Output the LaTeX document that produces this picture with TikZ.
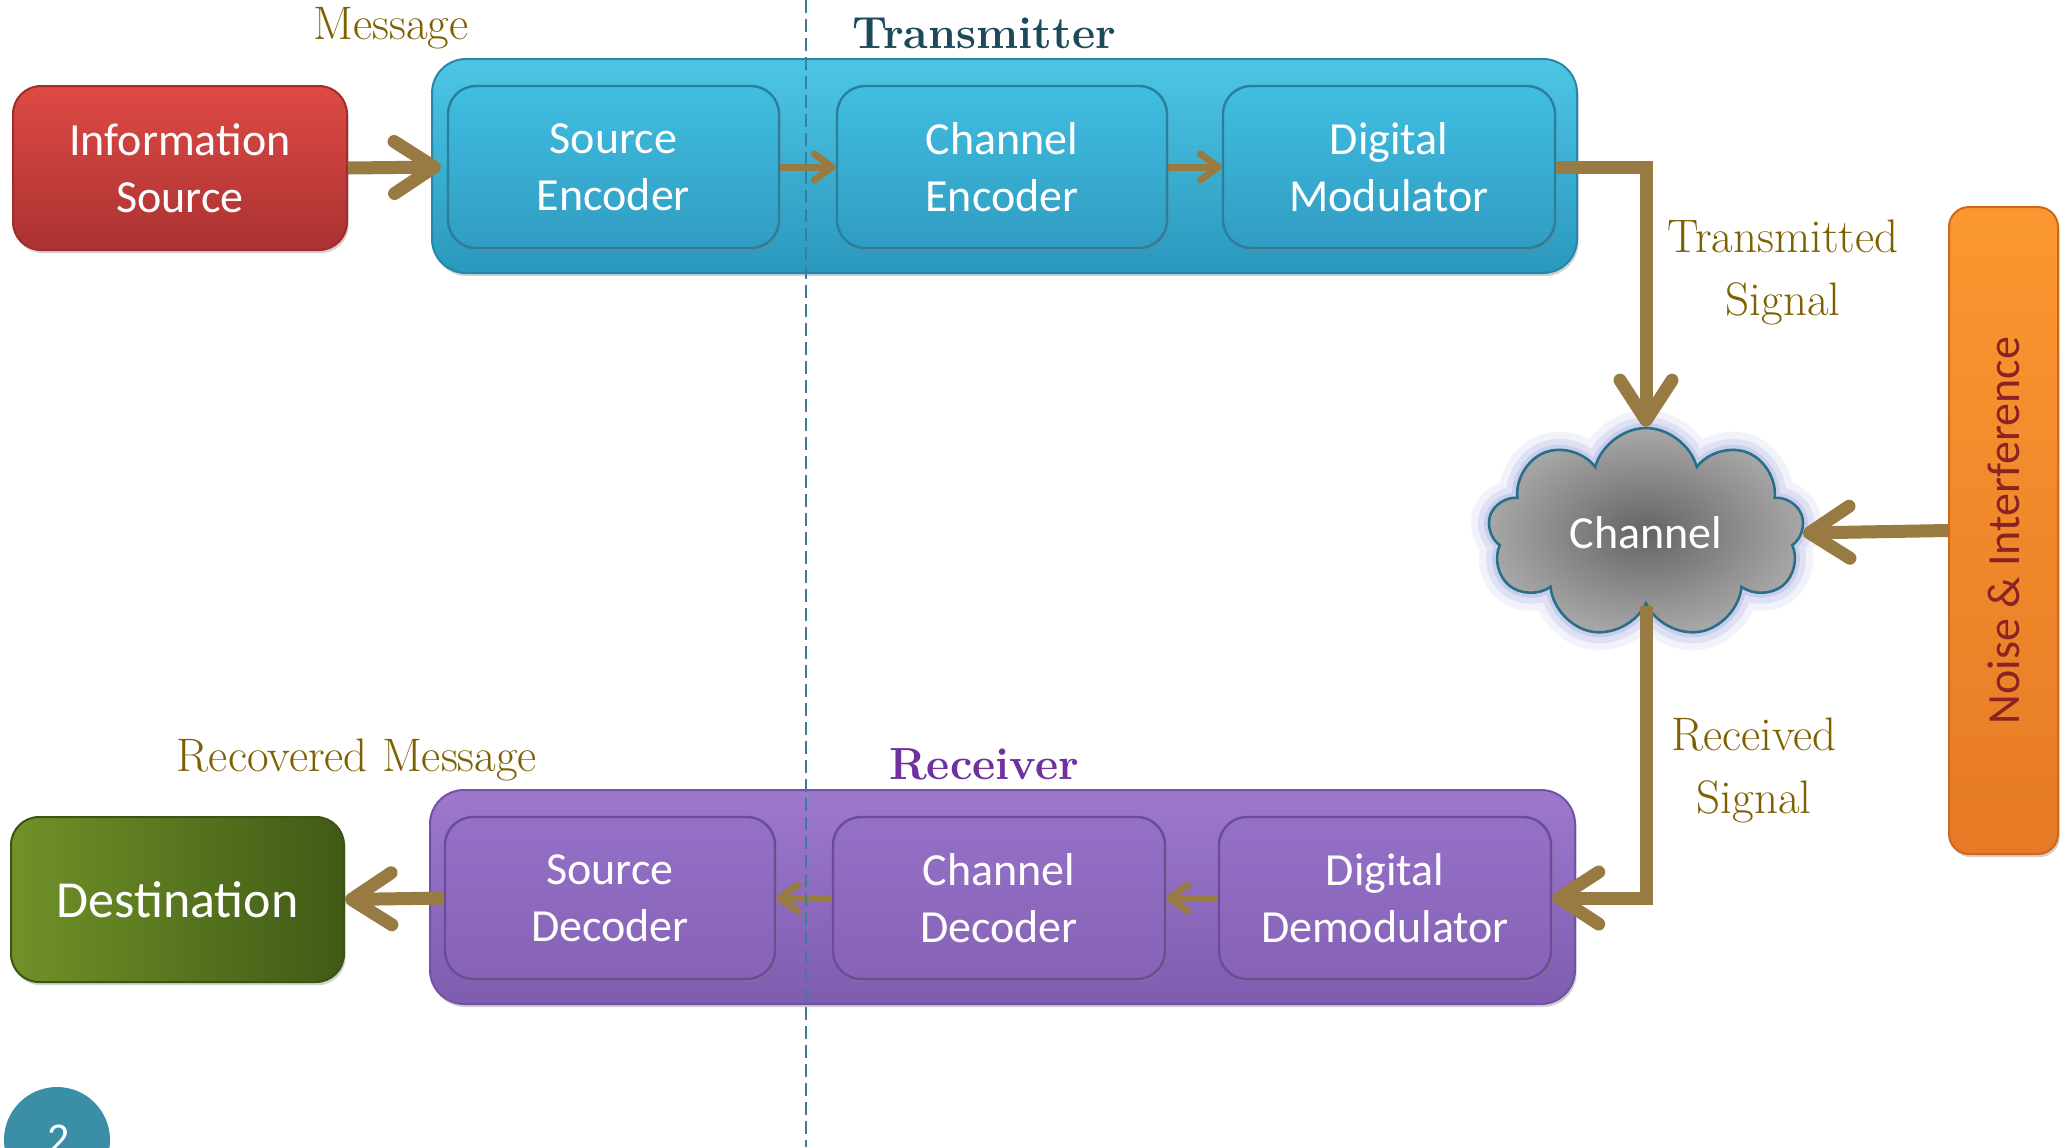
\documentclass[tikz,border=0pt]{standalone}
\usepackage{fontspec}
\newfontfamily\calfont{Carlito}
\usetikzlibrary{arrows.meta,shapes.symbols,shadows}

\definecolor{arrowc}{HTML}{977B42}
\definecolor{labelc}{HTML}{7F6000}
\definecolor{txtitle}{HTML}{1D4A5A}
\definecolor{rxtitle}{HTML}{7030A0}
\definecolor{dashc}{HTML}{3A7F9A}
\definecolor{pagec}{HTML}{3A8FA6}
\definecolor{noisetext}{HTML}{8B2323}
\definecolor{glowc}{HTML}{8C96DC}
\definecolor{cloudline}{HTML}{2A6F88}

\tikzset{
  boxtext/.style={font=\calfont\fontsize{23pt}{28.3pt}\selectfont, text=white, align=center},
  label/.style={font=\fontsize{23.5pt}{31.5pt}\selectfont, text=labelc, align=center},
  title/.style={font=\bfseries\fontsize{22.5pt}{26pt}\selectfont},
  shadowed/.style={drop shadow={shadow xshift=0.8pt, shadow yshift=-1.6pt, opacity=0.35}},
  txouter/.style={rounded corners=17pt, top color=txtop, bottom color=txbot, draw=txline, line width=1pt, shadowed},
  txinner/.style={boxtext, rounded corners=14pt, top color=txitop, bottom color=txibot, draw=txiline, line width=1.2pt, shadowed},
  rxouter/.style={rounded corners=17pt, top color=rxtop, bottom color=rxbot, draw=rxline, line width=1pt, shadowed},
  rxinner/.style={boxtext, rounded corners=14pt, top color=rxitop, bottom color=rxibot, draw=rxiline, line width=1.2pt, shadowed},
  bigarrow/.style={draw=arrowc, line width=6.5pt, line join=miter,
    -{Straight Barb[length=20pt, width=26pt, line width=6.5pt, round]}},
  smallarrow/.style={draw=arrowc, line width=3.5pt,
    -{Straight Barb[length=9pt, width=13pt, line width=3.5pt, round]}},
}
\definecolor{txtop}{HTML}{4DC6E4}
\definecolor{txbot}{HTML}{2A98BD}
\definecolor{txline}{HTML}{2687A8}
\definecolor{txitop}{HTML}{40BEE0}
\definecolor{txibot}{HTML}{319CC2}
\definecolor{txiline}{HTML}{2A7E9E}
\definecolor{rxtop}{HTML}{9C79CC}
\definecolor{rxbot}{HTML}{7E5CB0}
\definecolor{rxline}{HTML}{7352A6}
\definecolor{rxitop}{HTML}{9470C6}
\definecolor{rxibot}{HTML}{8763B8}
\definecolor{rxiline}{HTML}{6A4C98}

\begin{document}
\begin{tikzpicture}[x=0.5pt, y=-0.5pt]
\useasboundingbox (0,0) rectangle (2066,1147);
\fill[white] (0,0) rectangle (2066,1147);

% source side
\node[boxtext, rounded corners=14pt, top color={rgb,255:red,222;green,74;blue,68},
      bottom color={rgb,255:red,170;green,50;blue,50}, draw={rgb,255:red,160;green,44;blue,44},
      line width=1pt, shadowed, minimum width=167pt, minimum height=82pt] (info) at (180,168)
      {Information\\Source};

% transmitter chain
\node[txouter, minimum width=572.5pt, minimum height=107pt] (tx) at (1004.5,166) {};
\node[txinner, minimum width=165.5pt, minimum height=81pt] (senc) at (613.5,167) {Source\\Encoder};
\node[txinner, minimum width=165pt, minimum height=81pt] (cenc) at (1002,167) {Channel\\Encoder};
\node[txinner, minimum width=166pt, minimum height=81pt] (dmod) at (1389,167) {Digital\\Modulator};

% receiver chain
\node[rxouter, minimum width=572.5pt, minimum height=107pt] (rx) at (1002.5,897) {};
\node[rxinner, minimum width=165pt, minimum height=81pt] (sdec) at (610,898) {Source\\Decoder};
\node[rxinner, minimum width=166pt, minimum height=81pt] (cdec) at (999,898) {Channel\\Decoder};
\node[rxinner, minimum width=166pt, minimum height=81pt] (ddem) at (1385,898) {Digital\\Demodulator};

% sink
\node[font=\calfont\fontsize{26pt}{30pt}\selectfont, text=white, rounded corners=14pt,
      left color={rgb,255:red,112;green,146;blue,40}, right color={rgb,255:red,64;green,90;blue,22},
      draw={rgb,255:red,60;green,84;blue,20}, line width=1pt, shadowed,
      minimum width=166.5pt, minimum height=82.5pt] (dest) at (177.5,899.5) {Destination};

% noise source
\node[rounded corners=10pt, top color={rgb,255:red,251;green,151;blue,48},
      bottom color={rgb,255:red,230;green,122;blue,38}, draw={rgb,255:red,205;green,105;blue,30},
      line width=1pt, shadowed, minimum width=54.5pt, minimum height=323.5pt] (noise) at (2003.5,530.5) {};
\node[font=\calfont\fontsize{23pt}{28pt}\selectfont, text=noisetext, rotate=90] (noiselbl)
      at (noise.center) {Noise \& Interference};

% channel cloud with soft glow
\node[cloud, cloud puffs=9, cloud ignores aspect, minimum width=158pt, minimum height=105pt,
      inner color={rgb,255:red,100;green,100;blue,100}, outer color={rgb,255:red,168;green,168;blue,168},
      draw=cloudline, line width=1.3pt,
      preaction={draw=glowc, line width=18pt, opacity=0.12},
      preaction={draw=glowc, line width=11pt, opacity=0.18},
      preaction={draw=glowc, line width=5pt, opacity=0.25},
      boxtext] (chan) at (1646,533) {Channel};

% connectors
\draw[bigarrow] (info.east) -- ([xshift=-3pt]senc.west);
\draw[smallarrow] (senc.east) -- (cenc.west);
\draw[smallarrow] (cenc.east) -- (dmod.west);
\draw[bigarrow] (dmod.east) -| (chan.north);
\draw[bigarrow] (noise.west) -- (chan.east);
\draw[bigarrow] (chan.south) |- (ddem.east);
\draw[smallarrow] (ddem.west) -- (cdec.east);
\draw[smallarrow] (cdec.west) -- (sdec.east);
\draw[bigarrow] (sdec.west) -- (dest.east);

% labels
\node[label] (msg) at (391,28) {Message};
\node[title, text=txtitle] (txlbl) at (984,33) {Transmitter};
\node[label] (tsig) at (1783,272) {Transmitted\\Signal};
\node[label] (rsig) at (1754,770) {Received\\Signal};
\node[label] (rmsg) at (357,760) {Recovered Message};
\node[title, text=rxtitle] (rxlbl) at (984,764) {Receiver};

% divider
\coordinate (divtop) at (806,0);
\coordinate (divbot) at (806,1147);
\draw[dashc, line width=1.2pt, dash pattern=on 6.5pt off 3pt] (divtop) -- (divbot);

% page marker
\node[circle, fill=pagec, minimum size=53pt, inner sep=0pt] (page) at (57,1140) {};
\node[font=\calfont\fontsize{22pt}{26pt}\selectfont, text=white, anchor=base] (pagenum) at (59,1153) {2};
\end{tikzpicture}
\end{document}
